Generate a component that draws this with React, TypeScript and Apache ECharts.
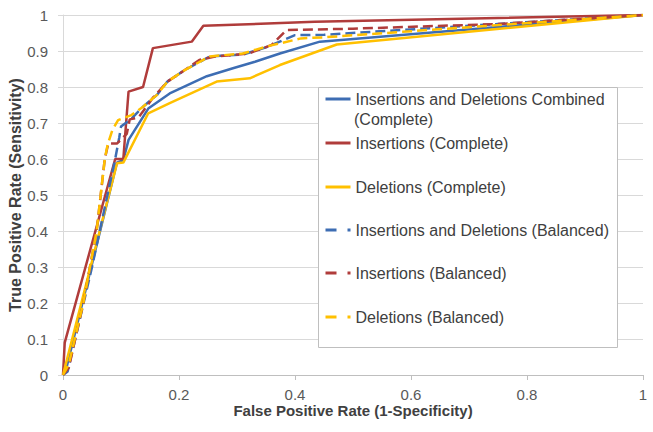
import React, { useEffect, useRef } from "react";
import * as echarts from "echarts";

// Insertions and Deletions Combined (Complete)
const combinedCompleteFpr = [0, 0.006, 0.093, 0.104, 0.113, 0.147, 0.184, 0.248, 0.293, 0.331, 0.374, 0.443, 1];
const combinedCompleteTpr = [0, 0.02, 0.59, 0.597, 0.653, 0.74, 0.782, 0.83, 0.852, 0.87, 0.893, 0.926, 1];

// Insertions (Complete)
const insCompleteFpr = [0, 0.003, 0.09, 0.104, 0.113, 0.138, 0.155, 0.222, 0.242, 0.434, 1];
const insCompleteTpr = [0, 0.09, 0.6, 0.6, 0.787, 0.8, 0.908, 0.926, 0.97, 0.981, 1];

// Deletions (Complete)
const delCompleteFpr = [0, 0.093, 0.104, 0.147, 0.184, 0.265, 0.322, 0.374, 0.472, 1];
const delCompleteTpr = [0, 0.588, 0.59, 0.727, 0.755, 0.815, 0.824, 0.861, 0.918, 1];

// Insertions and Deletions (Balanced)
const combinedBalancedFpr = [0, 0.008, 0.05, 0.09, 0.097, 0.1, 0.118, 0.138, 0.162, 0.18, 0.21, 0.253, 0.31, 0.35, 0.4, 0.45, 1];
const combinedBalancedTpr = [0, 0.01, 0.3, 0.6, 0.66, 0.69, 0.712, 0.745, 0.778, 0.815, 0.847, 0.885, 0.89, 0.91, 0.944, 0.945, 1];

// Insertions (Balanced)
const insBalancedFpr = [0, 0.01, 0.035, 0.058, 0.072, 0.078, 0.093, 0.11, 0.115, 0.13, 0.155, 0.18, 0.21, 0.235, 0.26, 0.32, 0.36, 0.385, 0.5, 0.75, 1];
const insBalancedTpr = [0, 0.02, 0.2, 0.4, 0.6, 0.643, 0.643, 0.67, 0.71, 0.715, 0.77, 0.815, 0.847, 0.875, 0.884, 0.893, 0.917, 0.958, 0.962, 0.975, 1];

// Deletions (Balanced)
const delBalancedFpr = [0, 0.01, 0.035, 0.058, 0.072, 0.077, 0.085, 0.095, 0.118, 0.138, 0.162, 0.18, 0.21, 0.253, 0.31, 0.35, 0.41, 0.45, 1];
const delBalancedTpr = [0, 0.03, 0.2, 0.4, 0.6, 0.64, 0.68, 0.708, 0.722, 0.745, 0.778, 0.815, 0.847, 0.885, 0.893, 0.912, 0.935, 0.938, 1];

const seriesNames = [
  "Insertions and Deletions Combined (Complete)",
  "Insertions (Complete)",
  "Deletions (Complete)",
  "Insertions and Deletions (Balanced)",
  "Insertions (Balanced)",
  "Deletions (Balanced)",
];

const xTicks = [0, 0.2, 0.4, 0.6, 0.8, 1];
const yTicks = [0, 0.1, 0.2, 0.3, 0.4, 0.5, 0.6, 0.7, 0.8, 0.9, 1];

const BLUE = "#3D6DB3";
const RED = "#B03C3B";
const YELLOW = "#FFC000";

function zip(xs: number[], ys: number[]) {
  return xs.map((x, i) => [x, ys[i]]);
}

export default function App() {
  const ref = useRef<HTMLDivElement>(null);

  useEffect(() => {
    if (!ref.current) return;
    const chart = echarts.init(ref.current, undefined, { renderer: "svg" });
    const font = "Liberation Sans, Arial, sans-serif";

    const seriesDefs = [
      { fpr: combinedCompleteFpr, tpr: combinedCompleteTpr, color: BLUE, dashed: false },
      { fpr: insCompleteFpr, tpr: insCompleteTpr, color: RED, dashed: false },
      { fpr: delCompleteFpr, tpr: delCompleteTpr, color: YELLOW, dashed: false },
      { fpr: combinedBalancedFpr, tpr: combinedBalancedTpr, color: BLUE, dashed: true },
      { fpr: insBalancedFpr, tpr: insBalancedTpr, color: RED, dashed: true },
      { fpr: delBalancedFpr, tpr: delBalancedTpr, color: YELLOW, dashed: true },
    ];

    const legendCenters = [99, 143, 187, 230, 273, 317];

    const legends = seriesNames.map((name, i) => ({
      data: [name],
      left: 324,
      top: legendCenters[i] - 9,
      orient: "vertical",
      padding: 0,
      itemWidth: 25,
      itemHeight: 14,
      selectedMode: false,
      z: 5,
      formatter: i === 0 ? () => "Insertions and Deletions Combined" : undefined,
      itemStyle: { color: "rgba(0,0,0,0)", borderWidth: 0, opacity: 0 },
      lineStyle: seriesDefs[i].dashed
        ? { type: [11, 11], width: 3, color: seriesDefs[i].color, opacity: 1 }
        : { width: 3, color: seriesDefs[i].color, opacity: 1 },
      textStyle: { fontFamily: font, fontSize: 16, color: "#404040", lineHeight: 18 },
    }));

    const option = {
      animation: false,
      backgroundColor: "#ffffff",
      grid: { left: 63, right: 10, top: 15, bottom: 57, containLabel: false, outerBoundsMode: "none" },
      xAxis: {
        type: "value",
        min: 0,
        max: 1,
        interval: 0.2,
        name: "False Positive Rate (1-Specificity)",
        nameLocation: "middle",
        nameGap: 28,
        nameMoveOverlap: false,
        nameTextStyle: { fontFamily: font, fontSize: 15, fontWeight: "bold", color: "#404040" },
        axisLine: { show: true, lineStyle: { color: "#BFBFBF", width: 1 } },
        axisTick: { show: true, length: 5, lineStyle: { color: "#BFBFBF" } },
        axisLabel: {
          fontFamily: font,
          fontSize: 15,
          color: "#595959",
          margin: 12,
          formatter: (v: number) => {
            const t = xTicks.find((k) => Math.abs(k - v) < 1e-9);
            return t === undefined ? "" : String(t);
          },
        },
        splitLine: { show: false },
      },
      yAxis: {
        type: "value",
        min: 0,
        max: 1,
        interval: 0.1,
        name: "True Positive Rate (Sensitivity)",
        nameLocation: "middle",
        nameGap: 40,
        nameMoveOverlap: false,
        nameTextStyle: { fontFamily: font, fontSize: 16, fontWeight: "bold", color: "#404040" },
        axisLine: { show: true, lineStyle: { color: "#D9D9D9", width: 1 } },
        axisTick: { show: true, length: 5, lineStyle: { color: "#D9D9D9" } },
        axisLabel: {
          fontFamily: font,
          fontSize: 15,
          color: "#595959",
          margin: 15,
          formatter: (v: number) => {
            const t = yTicks.find((k) => Math.abs(k - v) < 1e-9);
            return t === undefined ? "" : String(t);
          },
        },
        splitLine: { show: true, lineStyle: { color: "#D9D9D9", width: 1 } },
      },
      legend: legends,
      graphic: [
        {
          type: "rect",
          z: 3,
          shape: { x: 318.5, y: 87.5, width: 299, height: 260 },
          style: { fill: "#ffffff", stroke: "#BFBFBF", lineWidth: 1 },
        },
        {
          type: "text",
          z: 5,
          x: 354,
          y: 119,
          style: {
            text: "(Complete)",
            fontFamily: font,
            fontSize: 16,
            fill: "#404040",
            verticalAlign: "middle",
          },
        },
      ],
      series: seriesDefs.map((d, i) => ({
        name: seriesNames[i],
        type: "line",
        data: zip(d.fpr, d.tpr),
        showSymbol: false,
        symbol: "none",
        smooth: false,
        z: 2 + i * 0.01,
        lineStyle: {
          color: d.color,
          width: 2.5,
          type: d.dashed ? [10, 5] : "solid",
        },
        itemStyle: { color: d.color },
        emphasis: { disabled: true },
      })),
    };

    chart.setOption(option as any);
    return () => chart.dispose();
  }, []);

  return (
    <div
      ref={ref}
      style={{ position: "fixed", left: 0, top: 0, width: 653, height: 432 }}
    />
  );
}
